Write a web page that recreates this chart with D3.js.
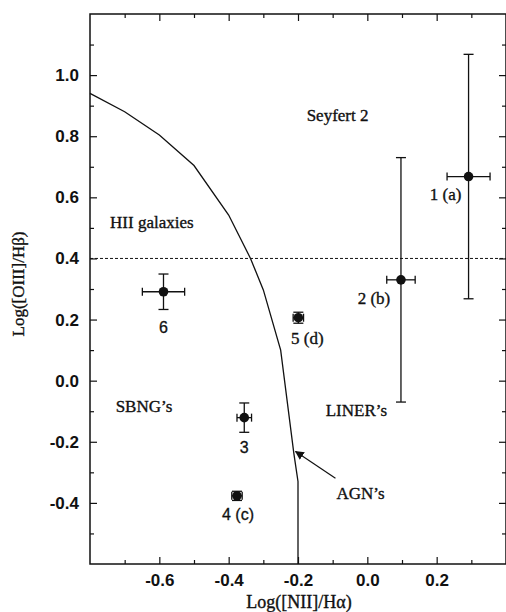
<!DOCTYPE html>
<html>
<head>
<meta charset="utf-8">
<script src="https://cdn.jsdelivr.net/npm/d3@7"></script>
<style>
    body { margin: 0; background: #fff; }
    svg { display: block; }
    .axis text { font-family: 'Liberation Sans', Arial, sans-serif; font-weight: bold; font-size: 17px; fill: #111; }
    .axis line { stroke: #111; stroke-width: 1.2; }
    .axis .domain { display: none; }
    .serif { font-family: 'Liberation Serif', 'Times New Roman', serif; font-size: 17px; fill: #111; stroke: #111; stroke-width: 0.35; }
    .sans { font-family: 'Liberation Sans', Arial, sans-serif; font-size: 16px; fill: #111; stroke: #111; stroke-width: 0.3; }
</style>
</head>
<body>
<svg id="chart" width="506" height="612"></svg>
<script>
// galaxies
const names = ['1 (a)', '2 (b)', '3', '4 (c)', '5 (d)', '6'];
const nii = [0.292, 0.097, -0.355, -0.376, -0.199, -0.588];
const niiErr = [0.062, 0.041, 0.021, 0.015, 0.015, 0.061];
const oiii = [0.668, 0.330, -0.121, -0.377, 0.206, 0.291];
const oiiiErr = [0.400, 0.400, 0.048, 0.015, 0.018, 0.058];
const labelSerif = [true, true, false, false, true, false];

// HII / AGN separation curve
const curveX = [-0.80, -0.70, -0.60, -0.50, -0.40, -0.337, -0.30, -0.25, -0.212, -0.200, -0.200];
const curveY = [0.94, 0.88, 0.804, 0.704, 0.542, 0.40, 0.297, 0.10, -0.238, -0.33, -0.60];
const hiiLimit = 0.4;

// region names
const regions = ['Seyfert 2', 'HII galaxies', "SBNG\u2019s", "LINER\u2019s", "AGN\u2019s"];
const regionX = [-0.175, -0.742, -0.726, -0.120, -0.089];
const regionY = [0.851, 0.500, -0.102, -0.115, -0.386];
const arrowFrom = [-0.092, -0.319];
const arrowTo = [-0.207, -0.232];

const xTicks = [-0.6, -0.4, -0.2, 0.0, 0.2];
const xTickLabels = ['-0.6', '-0.4', '-0.2', '0.0', '0.2'];
const xMinor = [-0.7, -0.5, -0.3, -0.1, 0.1, 0.3];
const yTicks = [-0.4, -0.2, 0.0, 0.2, 0.4, 0.6, 0.8, 1.0];
const yTickLabels = ['-0.4', '-0.2', '0.0', '0.2', '0.4', '0.6', '0.8', '1.0'];
const yMinor = [-0.5, -0.3, -0.1, 0.1, 0.3, 0.5, 0.7, 0.9, 1.1];

// label offsets from the point, px
const labelDx = [-23, -27, 0, 1, 9, 0];
const labelDy = [23, 24, 35, 24, 26, 41];

const svg = d3.select('#chart');
const pLeft = 90, pTop = 14, pRight = 506, pBottom = 564;

const x = d3.scaleLinear().domain([-0.8, 0.4]).range([pLeft, pRight]);
const y = d3.scaleLinear().domain([-0.6, 1.2]).range([pBottom, pTop]);

function axis(gen, tx, ty, values, size, labels) {
    const a = gen.tickValues(values).tickSizeInner(-size).tickSizeOuter(0);
    if (labels) a.tickFormat((d, i) => labels[i]);
    else a.tickFormat('');
    svg.append('g').attr('class', 'axis')
        .attr('transform', `translate(${tx},${ty})`)
        .call(a);
}

axis(d3.axisBottom(x).tickPadding(10), 0, pBottom, xTicks, 7, xTickLabels);
axis(d3.axisBottom(x), 0, pBottom, xMinor, 4);
axis(d3.axisTop(x), 0, pTop, xTicks, 7);
axis(d3.axisTop(x), 0, pTop, xMinor, 4);
axis(d3.axisLeft(y).tickPadding(11), pLeft, 0, yTicks, 7, yTickLabels);
axis(d3.axisLeft(y), pLeft, 0, yMinor, 4);
axis(d3.axisRight(y), pRight, 0, yTicks, 7);
axis(d3.axisRight(y), pRight, 0, yMinor, 4);

svg.append('rect')
    .attr('x', pLeft)
    .attr('y', pTop)
    .attr('width', pRight - pLeft)
    .attr('height', pBottom - pTop)
    .attr('fill', 'none')
    .attr('stroke', '#111')
    .attr('stroke-width', 1.5);

// dotted HII limit
svg.append('line')
    .attr('x1', pLeft).attr('x2', pRight)
    .attr('y1', y(hiiLimit)).attr('y2', y(hiiLimit))
    .attr('stroke', '#111')
    .attr('stroke-width', 1)
    .attr('stroke-dasharray', '3,2');

const line = d3.line().x(d => x(d[0])).y(d => y(d[1]));
svg.append('path')
    .datum(curveX.map((v, i) => [v, curveY[i]]))
    .attr('d', line)
    .attr('fill', 'none')
    .attr('stroke', '#111')
    .attr('stroke-width', 1.3);

// error bars and points
const pts = names.map((n, i) => ({name: n, x: nii[i], y: oiii[i], ex: niiErr[i], ey: oiiiErr[i], i: i}));
const g = svg.append('g').attr('stroke', '#111').attr('stroke-width', 1.3);
pts.forEach(p => {
    const cx = x(p.x), cy = y(p.y);
    const x0 = x(p.x - p.ex), x1 = x(p.x + p.ex);
    const y0 = y(p.y - p.ey), y1 = y(p.y + p.ey);
    g.append('line').attr('x1', x0).attr('x2', x1).attr('y1', cy).attr('y2', cy);
    g.append('line').attr('x1', x0).attr('x2', x0).attr('y1', cy - 4).attr('y2', cy + 4);
    g.append('line').attr('x1', x1).attr('x2', x1).attr('y1', cy - 4).attr('y2', cy + 4);
    g.append('line').attr('x1', cx).attr('x2', cx).attr('y1', y0).attr('y2', y1);
    g.append('line').attr('x1', cx - 5).attr('x2', cx + 5).attr('y1', y0).attr('y2', y0);
    g.append('line').attr('x1', cx - 5).attr('x2', cx + 5).attr('y1', y1).attr('y2', y1);
});

svg.selectAll('circle.pt')
    .data(pts)
    .enter().append('circle')
    .attr('class', 'pt')
    .attr('cx', d => x(d.x))
    .attr('cy', d => y(d.y))
    .attr('r', 4.8)
    .attr('fill', '#111');

svg.selectAll('text.name')
    .data(pts)
    .enter().append('text')
    .attr('class', d => labelSerif[d.i] ? 'name serif' : 'name sans')
    .attr('x', d => x(d.x) + labelDx[d.i])
    .attr('y', d => y(d.y) + labelDy[d.i])
    .attr('text-anchor', 'middle')
    .text(d => d.name);

svg.selectAll('text.region')
    .data(regions)
    .enter().append('text')
    .attr('class', 'region serif')
    .attr('x', (d, i) => x(regionX[i]))
    .attr('y', (d, i) => y(regionY[i]))
    .text(d => d);

// AGN arrow
svg.append('defs').append('marker')
    .attr('id', 'head')
    .attr('viewBox', '0 0 10 10')
    .attr('refX', 9).attr('refY', 5)
    .attr('markerWidth', 9).attr('markerHeight', 9)
    .attr('markerUnits', 'userSpaceOnUse')
    .attr('orient', 'auto')
    .append('path')
    .attr('d', 'M0,0L10,5L0,10z')
    .attr('fill', '#111');

svg.append('line')
    .attr('x1', x(arrowFrom[0])).attr('y1', y(arrowFrom[1]))
    .attr('x2', x(arrowTo[0])).attr('y2', y(arrowTo[1]))
    .attr('stroke', '#111')
    .attr('stroke-width', 1.2)
    .attr('marker-end', 'url(#head)');

// axis titles
svg.append('text')
    .attr('class', 'serif')
    .attr('x', 299)
    .attr('y', 608)
    .attr('text-anchor', 'middle')
    .style('font-size', '18px')
    .text('Log([NII]/H\u03b1)');

svg.append('text')
    .attr('class', 'serif')
    .attr('transform', 'translate(24,284) rotate(-90)')
    .attr('text-anchor', 'middle')
    .style('font-size', '17px')
    .text('Log([OIII]/H\u03b2)');
</script>
</body>
</html>
